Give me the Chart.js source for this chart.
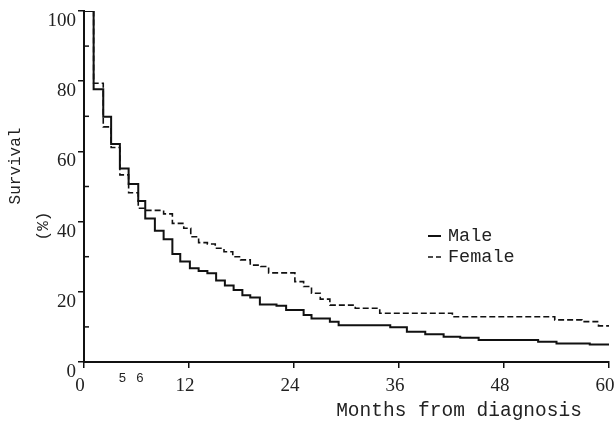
<!DOCTYPE html>
<html>
<head>
<meta charset="utf-8">
<script src="https://cdn.jsdelivr.net/npm/chart.js@4"></script>
<style>
  html, body { margin: 0; padding: 0; background: #fff; }
  #wrap { width: 615px; height: 425px; position: relative; }
</style>
</head>
<body>
<div id="wrap"><canvas id="km"></canvas></div>
<script>
// Kaplan-Meier steps (months, survival %)
const maleMonths = [0, 1.1, 2.2, 3.1, 4.1, 5.1, 6.2, 7.0, 8.1, 9.1, 10.1, 11.0, 12.1, 13.1, 14.1, 15.1, 16.1, 17.1, 18.1, 19.0, 20.1, 22.0, 23.1, 25.1, 26.0, 28.1, 29.1, 35.0, 36.9, 39.0, 41.1, 43.0, 45.1, 51.9, 54.0, 57.8, 60];
const maleSurv = [100, 77.7, 69.9, 62.1, 55.1, 50.7, 45.9, 40.9, 37.4, 35.0, 30.8, 28.6, 26.7, 25.9, 25.3, 23.2, 21.8, 20.5, 19.0, 18.4, 16.4, 16.0, 14.8, 13.4, 12.4, 11.5, 10.5, 9.9, 8.6, 7.9, 7.2, 6.9, 6.3, 5.8, 5.3, 5.0, 5.0];

const femaleMonths = [0, 1.1, 2.2, 3.1, 4.1, 5.1, 6.2, 7.0, 9.1, 10.1, 11.4, 12.2, 13.1, 14.1, 15.0, 16.0, 17.0, 17.9, 19.0, 20.2, 21.1, 24.1, 25.1, 26.0, 27.0, 28.1, 31.0, 33.8, 42.1, 53.8, 56.9, 58.8, 60];
const femaleSurv = [100, 79.4, 67.0, 61.1, 53.3, 48.2, 43.8, 43.2, 42.2, 39.5, 38.1, 35.7, 34.0, 33.6, 32.4, 31.4, 30.0, 29.1, 27.6, 27.2, 25.4, 22.9, 21.5, 19.6, 17.9, 16.2, 15.3, 13.9, 12.9, 12.0, 11.5, 10.3, 10.3];

const xTicks = [0, 12, 24, 36, 48, 60];
const yTicks = [0, 20, 40, 60, 80, 100];
const yMinorTicks = [10, 30, 50, 70, 90];
const markedMonths = ['5', '6'];

const mono = '"Liberation Mono", "Courier New", monospace';
const serif = '"Liberation Serif", "Times New Roman", serif';

function toPoints(xs, ys) {
    return xs.map((x, i) => ({ x: x, y: ys[i] }));
}

const extras = {
    id: 'extras',
    afterDraw(chart) {
        const ctx = chart.ctx;
        const xs = chart.scales.x;
        const ys = chart.scales.y;
        ctx.save();
        ctx.strokeStyle = '#111';
        ctx.lineWidth = 1.5;
        // minor ticks pointing into the plot
        yMinorTicks.forEach(v => {
            const py = ys.getPixelForValue(v);
            ctx.beginPath();
            ctx.moveTo(xs.left, py);
            ctx.lineTo(xs.left + 5, py);
            ctx.stroke();
        });

        ctx.fillStyle = '#222';
        // small month markers under the axis
        ctx.font = '13px ' + mono;
        ctx.textAlign = 'center';
        ctx.textBaseline = 'middle';
        ctx.fillText(markedMonths[0], xs.getPixelForValue(4.4), 379);
        ctx.fillText(markedMonths[1], xs.getPixelForValue(6.4), 379);

        // axis titles
        ctx.font = '19.5px ' + mono;
        ctx.fillText('Months from diagnosis', 459, 411);
        ctx.save();
        ctx.translate(16, 166);
        ctx.rotate(-Math.PI / 2);
        ctx.font = '16px ' + mono;
        ctx.fillText('Survival', 0, 0);
        ctx.restore();
        ctx.save();
        ctx.translate(44, 226);
        ctx.rotate(-Math.PI / 2);
        ctx.font = '16px ' + mono;
        ctx.fillText('(%)', 0, 0);
        ctx.restore();

        // legend
        ctx.font = '18.5px ' + mono;
        ctx.textAlign = 'left';
        ctx.lineWidth = 2;
        ctx.beginPath();
        ctx.moveTo(428, 236);
        ctx.lineTo(441, 236);
        ctx.stroke();
        ctx.fillText('Male', 448, 236);
        ctx.lineWidth = 1.5;
        ctx.beginPath();
        ctx.moveTo(428, 257); ctx.lineTo(433, 257);
        ctx.moveTo(436, 257); ctx.lineTo(441, 257);
        ctx.stroke();
        ctx.fillText('Female', 448, 257);
        ctx.restore();
    }
};

new Chart(document.getElementById('km'), {
    type: 'line',
    data: {
        datasets: [
            {
                label: 'Male',
                data: toPoints(maleMonths, maleSurv),
                borderColor: '#111',
                borderWidth: 2,
                stepped: 'before',
                pointRadius: 0,
                fill: false
            },
            {
                label: 'Female',
                data: toPoints(femaleMonths, femaleSurv),
                borderColor: '#111',
                borderWidth: 1.6,
                borderDash: [6, 3],
                stepped: 'before',
                pointRadius: 0,
                fill: false
            }
        ]
    },
    options: {
        responsive: true,
        maintainAspectRatio: false,
        animation: false,
        layout: { padding: { top: 11, right: 6, left: 0, bottom: 0 } },
        plugins: {
            legend: { display: false },
            tooltip: { enabled: false }
        },
        scales: {
            x: {
                type: 'linear',
                min: 0,
                max: 60,
                afterBuildTicks: s => { s.ticks = xTicks.map(v => ({ value: v })); },
                afterFit: s => { s.height = 63; s.paddingLeft = 0; s.paddingRight = 0; },
                border: { display: true, color: '#111', width: 2 },
                grid: { drawOnChartArea: false, drawTicks: true, tickLength: 6, color: '#111', lineWidth: 1.5 },
                ticks: { font: { family: serif, size: 19 }, color: '#222', padding: 7, maxRotation: 0, labelOffset: -4 }
            },
            y: {
                min: 0,
                max: 100,
                afterBuildTicks: s => { s.ticks = yTicks.map(v => ({ value: v })); },
                afterFit: s => { s.width = 84; s.paddingTop = 0; s.paddingBottom = 0; },
                border: { display: true, color: '#111', width: 2 },
                grid: { drawOnChartArea: false, drawTicks: true, tickLength: 6, color: '#111', lineWidth: 1.5 },
                ticks: { font: { family: serif, size: 19 }, color: '#222', padding: 2, labelOffset: 10 }
            }
        }
    },
    plugins: [extras]
});
</script>
</body>
</html>
